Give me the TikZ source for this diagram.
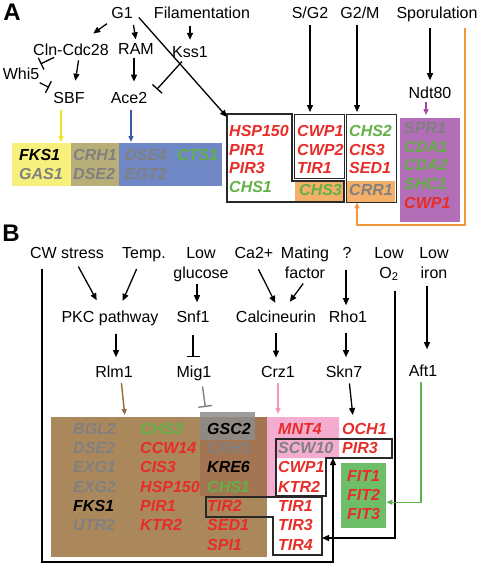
\documentclass[tikz,border=0pt]{standalone}
\usepackage{fontspec}
\setmainfont{Liberation Sans}
\usepackage{tikz}
\usetikzlibrary{arrows.meta,calc,positioning}
\definecolor{genred}{RGB}{232,44,40}
\definecolor{gengreen}{RGB}{98,176,70}
\definecolor{gengray}{RGB}{128,128,128}
\definecolor{boxline}{RGB}{40,40,40}
\definecolor{yellowA}{RGB}{247,240,125}
\definecolor{oliveA}{RGB}{184,174,120}
\definecolor{blueA}{RGB}{112,135,198}
\definecolor{purpleA}{RGB}{178,110,182}
\definecolor{orangeA}{RGB}{244,176,104}
\definecolor{orangeL}{RGB}{242,150,60}
\definecolor{brownB}{RGB}{170,136,92}
\definecolor{browndark}{RGB}{163,117,82}
\definecolor{pinkB}{RGB}{244,172,208}
\definecolor{grayB}{RGB}{140,140,140}
\definecolor{greenB}{RGB}{110,190,105}
\definecolor{arrbrown}{RGB}{150,105,55}
\definecolor{arrpink}{RGB}{238,150,190}
\definecolor{arrgreen}{RGB}{90,180,75}
\definecolor{arryellow}{RGB}{240,228,30}
\definecolor{arrblue}{RGB}{60,90,170}
\definecolor{arrpurple}{RGB}{170,70,170}
\newcommand{\ggray}[1]{\textcolor{gengray}{#1}}
\newcommand{\ggreen}[1]{\textcolor{gengreen}{#1}}
\newcommand{\gblack}[1]{\textcolor{black}{#1}}
\tikzstyle{lbl} = [font=\fontsize{16}{20}\selectfont, inner sep=2pt, anchor=base]
\tikzstyle{lbltwo} = [font=\fontsize{16}{20}\selectfont, inner sep=2pt, align=center]
\tikzstyle{panel} = [font=\fontsize{24}{24}\selectfont\bfseries, inner sep=0pt, anchor=base]
\tikzstyle{genes} = [font=\fontsize{16}{18.8}\selectfont\bfseries\itshape, inner sep=0pt,
 anchor=north west, align=left, text=genred]
\tikzstyle{genesb} = [genes, font=\fontsize{16}{19.3}\selectfont\bfseries\itshape]
\tikzstyle{area} = [inner sep=0pt, anchor=north west]
\tikzstyle{outl} = [line width=1.1pt, draw=boxline]
\tikzstyle{act} = [-{Triangle[length=7pt,width=6pt]}, line width=1.3pt]
\tikzstyle{inh} = [-{Bar[width=13pt]}, line width=1.3pt]
\tikzstyle{cact} = [-{Triangle[length=6pt,width=5pt]}, line width=1.4pt]

\begin{document}
\begin{tikzpicture}[x=1pt, y=-1pt]
\useasboundingbox (0,0) rectangle (480,568);

% panel A
\node[panel] (pA) at (12,20.5) {A};
\node[lbl] (g1) at (122,18.5) {G1};
\node[lbl] (fil) at (202,18.5) {Filamentation};
\node[lbl] (sg2) at (310,18.5) {S/G2};
\node[lbl] (g2m) at (360,18.5) {G2/M};
\node[lbl] (spo) at (437,18.5) {Sporulation};
\node[lbl] (cln) at (71,55) {Cln-Cdc28};
\node[lbl] (ram) at (136,54.5) {RAM};
\node[lbl] (kss) at (190,57) {Kss1};
\node[lbl] (whi) at (21,79) {Whi5};
\node[lbl] (sbf) at (69,103) {SBF};
\node[lbl] (ace) at (129,103) {Ace2};
\node[lbl] (ndt) at (430,98) {Ndt80};

\node[area, fill=yellowA, minimum width=59pt, minimum height=43pt] (yel) at (12,143) {};
\node[area, fill=oliveA, minimum width=48pt, minimum height=43pt] (olv) at (71,143) {};
\node[area, fill=blueA, minimum width=103pt, minimum height=43pt] (blu) at (119,143) {};
\node[area, fill=purpleA, minimum width=60pt, minimum height=104pt] (pur) at (400,118) {};
\node[area, fill=orangeA, minimum width=49pt, minimum height=21pt] (chs) at (295,181) {};
\node[area, fill=orangeA, minimum width=49pt, minimum height=21pt] (crr) at (346,181) {};

\draw[outl] (227,114) -- (292,114) -- (292,181) -- (344,181) -- (344,202) -- (227,202) -- cycle;
\node[area, outl, minimum width=50pt, minimum height=64pt] (cwp) at (294,114) {};
\node[area, outl, minimum width=50pt, minimum height=88pt] (gmb) at (346,114) {};
\coordinate (hsp) at (227,117);

\node[genes] (gy) at (19,149) {\gblack{FKS1}\\\ggray{GAS1}};
\node[genes] (go) at (73,149) {\ggray{CRH1}\\\ggray{DSE2}};
\node[genes] (gb) at (125,149) {\ggray{DSE4}\\\ggray{EGT2}};
\node[genes] (gbt) at (177,149) {\ggreen{CTS1}};
\node[genes] (gh) at (229,125) {HSP150\\PIR1\\PIR3\\\ggreen{CHS1}};
\node[genes] (gc) at (297,125) {CWP1\\CWP2\\TIR1};
\node[genes] (gct) at (299,184) {\ggreen{CHS3}};
\node[genes] (gm) at (349,125) {\ggreen{CHS2}\\CIS3\\SED1};
\node[genes] (gmt) at (349,184) {\ggray{CRR1}};
\node[genes] (gp) at (404,122) {\ggray{SPR1}\\\ggreen{CDA1}\\\ggreen{CDA2}\\\ggreen{SHC1}\\CWP1};

\draw[act, shorten <=5pt, shorten >=13.4pt] (g1) -- (cln);
\draw[act, shorten <=4pt, shorten >=2pt] ([xshift=-2pt]g1.south east) -- (ram.north);
\draw[act, shorten <=6pt] (g1.east) -- (hsp);
\draw[act, shorten <=5pt, shorten >=4pt] (fil.south -| kss) -- (kss);
\draw[inh, shorten >=3pt] (cln) -- (whi);
\draw[inh, shorten <=3pt, shorten >=5pt] (whi) -- (sbf);
\draw[act, shorten <=3pt, shorten >=9pt] ([xshift=8pt]cln.south) -- ([xshift=5pt]sbf.north);
\draw[act, shorten <=1pt, shorten >=8pt] ([xshift=-2pt]ram.south) -- ([xshift=-2pt]ram.south |- ace.north);
\draw[inh, shorten <=3pt, shorten >=11pt] ([xshift=-6pt]kss.south) -- (ace.east);
\draw[act, shorten <=4pt, shorten >=2pt] (sg2) -- (sg2 |- cwp.north);
\draw[act, shorten <=4pt, shorten >=2pt] ([xshift=-3pt]g2m.south) -- ([xshift=-3pt]g2m.south |- gmb.north);
\draw[act, shorten <=4pt, shorten >=4pt] (spo.south -| ndt) -- (ndt);
\draw[cact, draw=arryellow, shorten <=5pt, shorten >=1pt] ([xshift=-8pt]sbf.south) -- ([xshift=-8pt]sbf.south |- yel.north);
\draw[cact, draw=arrblue, shorten <=5pt, shorten >=1pt] ([xshift=2pt]ace.south) -- ([xshift=2pt]ace.south |- blu.north);
\draw[cact, draw=arrpurple, shorten <=2pt, shorten >=3pt] ([xshift=-4pt]ndt.south) -- ([xshift=-4pt]ndt.south |- pur.north);
\coordinate (otop) at (465,28);
\coordinate (ocorner) at (357,225);
\draw[cact, draw=orangeL] (otop) |- (ocorner) -- (ocorner |- crr.south);

% panel B
\node[panel] (pB) at (11,241.5) {B};
\node[lbl] (cws) at (67,258) {CW stress};
\node[lbl] (tmp) at (144,258) {Temp.};
\node[lbltwo] (lowg) at (201,264.5) {Low\\glucose};
\node[lbl] (ca) at (254,258) {Ca2+};
\node[lbltwo] (mat) at (305,263) {Mating\\factor};
\node[lbl] (qm) at (347,258) {?};
\node[lbltwo] (lowo) at (389,264) {Low\\O\textsubscript{2}};
\node[lbltwo] (lowi) at (434,263) {Low\\iron};
\node[lbl] (pkc) at (110,322) {PKC pathway};
\node[lbl] (snf) at (193,322) {Snf1};
\node[lbl] (cal) at (276,322) {Calcineurin};
\node[lbl] (rho) at (348,322) {Rho1};
\node[lbl] (rlm) at (114,377) {Rlm1};
\node[lbl] (mig) at (194,377) {Mig1};
\node[lbl] (crz) at (278,377) {Crz1};
\node[lbl] (skn) at (344,377) {Skn7};
\node[lbl] (aft) at (423,376) {Aft1};

\node[area, fill=brownB, minimum width=216pt, minimum height=140pt] (brn) at (51,417) {};
\node[area, fill=browndark, minimum width=67pt, minimum height=79pt] (brd) at (200,417) {};
\fill[pinkB] (267,417) -- (339,417) -- (339,458) -- (276,458) -- (276,496) -- (267,496) -- cycle;
\node[area, fill=grayB, fill opacity=0.85, minimum width=55pt, minimum height=28pt] (gsc) at (200,412) {};
\node[area, fill=greenB, minimum width=45pt, minimum height=65pt] (fitbox) at (341,463) {};

\draw[outl] (276,439) -- (392,439) -- (392,458) -- (326,458) -- (326,496) -- (276,496) -- cycle;
\draw[outl] (206,497) -- (322,497) -- (322,555) -- (273,555) -- (273,517) -- (206,517) -- cycle;

\node[genesb] (ba) at (73,423) {\ggray{BGL2}\\\ggray{DSE2}\\\ggray{EXG1}\\\ggray{EXG2}\\\gblack{FKS1}\\\ggray{UTR2}};
\node[genesb] (bb) at (140,423) {\ggreen{CHS3}\\CCW14\\CIS3\\HSP150\\PIR1\\KTR2};
\node[genesb] (bc) at (207,423) {\gblack{GSC2}\\\ggray{CRH1}\\\gblack{KRE6}\\\ggreen{CHS1}\\TIR2\\SED1\\SPI1};
\node[genesb] (bd) at (278,423) {MNT4\\\ggray{SCW10}\\CWP1\\KTR2\\TIR1\\TIR3\\TIR4};
\node[genesb] (be) at (342,423) {OCH1\\PIR3};
\node[genesb] (bf) at (347,470) {FIT1\\FIT2\\FIT3};

\draw[act, shorten <=7pt, shorten >=9pt] ([xshift=8pt]cws.south) -- ([xshift=-9pt]pkc.north);
\draw[act, shorten <=6pt, shorten >=8pt] ([xshift=-5pt]tmp.south) -- ([xshift=9.5pt]pkc.north);
\draw[act, shorten >=6pt] ([xshift=-4pt]lowg.south) -- ([xshift=-4pt]lowg.south |- snf.north);
\draw[act, shorten <=10pt, shorten >=6pt] (ca.south) -- ([xshift=2pt]cal.north);
\draw[act, shorten <=3pt, shorten >=8pt] (mat.south) -- ([xshift=9pt]cal.north);
\draw[act, shorten <=10pt, shorten >=3pt] ([xshift=-1pt]qm.south) -- ([xshift=-1pt]qm.south |- rho.north);
\draw[act, shorten <=6pt, shorten >=6pt] ([xshift=6pt]pkc.south) -- ([xshift=6pt]pkc.south |- rlm.north);
\draw[inh, shorten <=11pt, shorten >=6pt] (snf.south) -- (snf.south |- mig.north);
\draw[act, shorten <=9pt, shorten >=6pt] (cal.south) -- (cal.south |- crz.north);
\draw[act, shorten <=9pt, shorten >=6pt] ([xshift=-2pt]rho.south) -- ([xshift=-2pt]rho.south |- skn.north);
\draw[act, shorten <=5pt, shorten >=13pt] ([xshift=-7pt]lowi.south) -- ([xshift=-7pt]lowi.south |- aft.north);

\draw[cact, draw=arrbrown, shorten <=4pt, shorten >=2pt] ([xshift=7pt]rlm.south) -- ([xshift=11pt]rlm.south |- brn.north);
\draw[draw=gengray, -{Bar[width=14pt]}, line width=1.4pt, shorten <=4pt, shorten >=5pt] ([xshift=8pt]mig.south) -- ([xshift=12pt]mig.south |- gsc.north);
\draw[cact, draw=arrpink, shorten <=4pt, shorten >=3pt] (crz.south) -- (crz.south |- brn.north);
\draw[act, shorten <=4pt, shorten >=2pt] ([xshift=5pt]skn.south) -- ([xshift=9pt]skn.south |- brn.north);

\coordinate (cwbot) at (333,562);
\coordinate (scwedge) at (333,458);
\coordinate (tiredge) at (322,538);
\draw[act, shorten <=9pt] ([xshift=-25pt]cws.south) |- (cwbot) -- (scwedge);
\draw[act, shorten <=8pt] ([xshift=6pt]lowo.south) |- (tiredge);
\draw[cact, draw=arrgreen, shorten <=4pt] ([xshift=-2pt]aft.south) |- ([yshift=-6.5pt]fitbox.east);

\end{tikzpicture}
\end{document}
